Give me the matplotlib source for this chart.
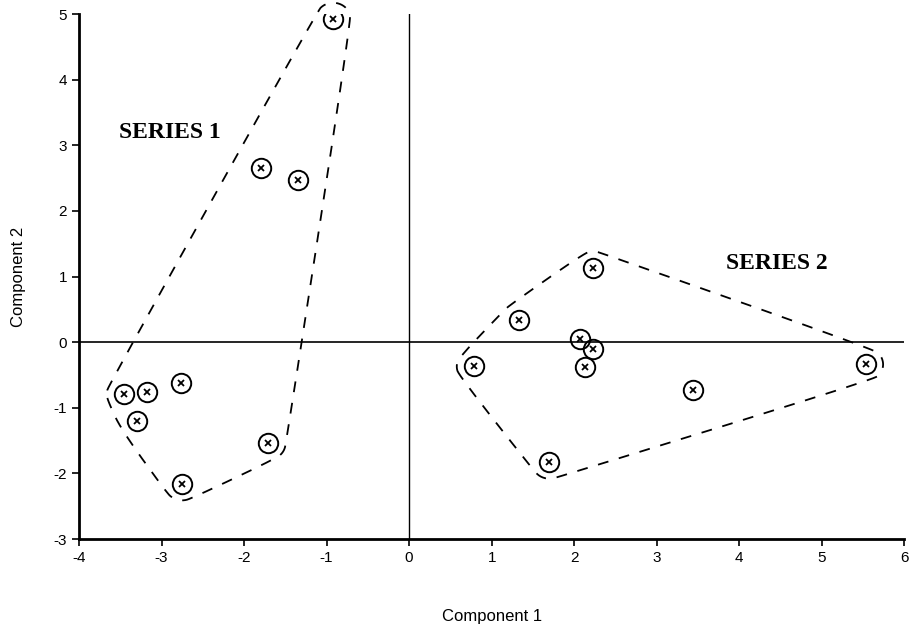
import numpy as np
import matplotlib
matplotlib.use('Agg')
import matplotlib.pyplot as plt

plt.rcParams['axes.unicode_minus'] = False

# puntos
s1_x = [-0.92, -1.80, -1.35, -2.76, -3.45, -3.18, -3.30, -1.71, -2.75]
s1_y = [4.92, 2.65, 2.47, -0.62, -0.79, -0.76, -1.20, -1.54, -2.16]
s2_x = [2.23, 1.33, 0.79, 2.07, 2.23, 2.13, 1.70, 3.44, 5.53]
s2_y = [1.13, 0.34, -0.37, 0.05, -0.11, -0.38, -1.83, -0.73, -0.34]

x_ticks = [-4, -3, -2, -1, 0, 1, 2, 3, 4, 5, 6]
y_ticks = [-3, -2, -1, 0, 1, 2, 3, 4, 5]


def hull(px, py):
    pts = sorted(set(zip(px, py)))

    def cross(o, a, b):
        return (a[0] - o[0]) * (b[1] - o[1]) - (a[1] - o[1]) * (b[0] - o[0])

    lower, upper = [], []
    for p in pts:
        while len(lower) >= 2 and cross(lower[-2], lower[-1], p) <= 0:
            lower.pop()
        lower.append(p)
    for p in reversed(pts):
        while len(upper) >= 2 and cross(upper[-2], upper[-1], p) <= 0:
            upper.pop()
        upper.append(p)
    return np.array(lower[:-1] + upper[:-1])


def chaikin(p, it=3):
    # suaviza el contorno cerrado
    for _ in range(it):
        q = np.roll(p, -1, axis=0)
        a = 0.75 * p + 0.25 * q
        b = 0.25 * p + 0.75 * q
        p = np.stack([a, b], axis=1).reshape(-1, 2)
    return np.vstack([p, p[:1]])


def rounded_hull(x, y, rx=0.22, ry=0.26, n=12):
    t = np.linspace(0, 2 * np.pi, n, endpoint=False)
    px = (np.array(x)[:, None] + rx * np.cos(t)).ravel()
    py = (np.array(y)[:, None] + ry * np.sin(t)).ravel()
    return chaikin(hull(px, py), 4)


fig = plt.figure(figsize=(9.12, 6.31), dpi=100)
ax = fig.add_axes([0.0866, 0.1458, 0.905, 0.832])

ax.axhline(0, color='black', lw=1.2, zorder=1)
ax.axvline(0, color='black', lw=1.0, zorder=1)

for xs, ys in [(s1_x, s1_y), (s2_x, s2_y)]:
    h = rounded_hull(xs, ys)
    ax.plot(h[:, 0], h[:, 1], color='black', lw=1.3, linestyle=(0, (6, 6)), clip_on=False)
    ax.plot(xs, ys, 'o', ms=14, mfc='none', mec='black', mew=1.4, zorder=3)
    ax.plot(xs, ys, 'x', ms=5, color='black', mew=1.3, zorder=4)

ax.text(-2.90, 3.20, 'SERIES 1', family='Liberation Serif', fontsize=17,
        fontweight='bold', ha='center', va='center')
ax.text(4.45, 1.20, 'SERIES 2', family='Liberation Serif', fontsize=17,
        fontweight='bold', ha='center', va='center')

ax.set_xlim(-4, 6)
ax.set_ylim(-3, 5)
ax.set_xticks(x_ticks)
ax.set_yticks(y_ticks)
ax.tick_params(direction='out', length=5, width=1.2, labelsize=11)
for lab in ax.get_xticklabels() + ax.get_yticklabels():
    lab.set_family('Liberation Sans')

ax.spines['top'].set_visible(False)
ax.spines['right'].set_visible(False)
ax.spines['left'].set_linewidth(2)
ax.spines['bottom'].set_linewidth(2)

ax.set_xlabel('Component 1', family='Liberation Sans', fontsize=12, labelpad=32)
ax.set_ylabel('Component 2', family='Liberation Sans', fontsize=12, labelpad=20)

plt.savefig('out.png', dpi=100)
